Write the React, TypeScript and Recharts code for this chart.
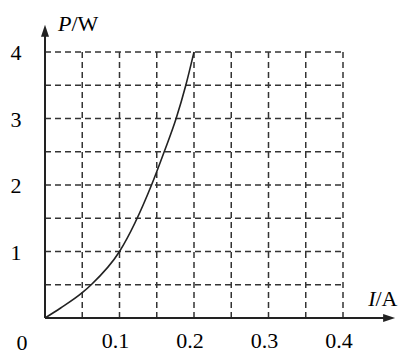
import { LineChart, Line, XAxis, YAxis, CartesianGrid, ReferenceLine } from 'recharts';

// I (A) vs P (W)
const currents = [0, 0.021, 0.05, 0.062, 0.1, 0.143, 0.16, 0.176, 0.189, 0.2];
const powers = [0, 0.15, 0.38, 0.5, 1.0, 2.0, 2.5, 3.0, 3.5, 4.0];

const xTicks = [0, 0.05, 0.1, 0.15, 0.2, 0.25, 0.3, 0.35, 0.4];
const yTicks = [0, 0.5, 1, 1.5, 2, 2.5, 3, 3.5, 4];
const xLabels = ['0.1', '0.2', '0.3', '0.4'];
const yLabels = ['1', '2', '3', '4'];

const data = currents.map((c, i) => ({ current: c, power: powers[i] }));

const FONT = '"Liberation Serif", "Times New Roman", serif';
const INK = '#222';

const XTick = (props: any) => {
  const { x, y, payload } = props;
  const hundredths = Math.round(payload.value * 100);
  const txt = (hundredths / 100).toFixed(1);
  if (hundredths % 10 !== 0 || !xLabels.includes(txt)) return <g />;
  return (
    <text x={x - 4} y={y + 22} textAnchor="middle" fontSize={22} fontFamily={FONT} fill="#000">
      {txt}
    </text>
  );
};

const YTick = (props: any) => {
  const { y, payload } = props;
  const txt = String(payload.value);
  if (!yLabels.includes(txt)) return <g />;
  return (
    <text x={16} y={y + 8} textAnchor="middle" fontSize={22} fontFamily={FONT} fill="#000">
      {txt}
    </text>
  );
};

const YArrow = (props: any) => {
  const { x1, y1, x2, y2 } = props;
  const top = Math.min(y1, y2);
  const bottom = Math.max(y1, y2);
  return (
    <g>
      <line x1={x1} y1={bottom} x2={x2} y2={top + 6} stroke={INK} strokeWidth={2} />
      <polygon points={`${x1},${top} ${x1 - 4},${top + 12} ${x1 + 4},${top + 12}`} fill={INK} />
      <text x={x1 + 13} y={top + 6} fontSize={22} fontFamily={FONT} fill="#000">
        <tspan fontStyle="italic">P</tspan>
        <tspan>/W</tspan>
      </text>
    </g>
  );
};

const XArrow = (props: any) => {
  const { x1, y1, x2 } = props;
  const left = Math.min(x1, x2);
  const right = Math.max(x1, x2);
  return (
    <g>
      <line x1={left} y1={y1} x2={right - 6} y2={y1} stroke={INK} strokeWidth={2} />
      <polygon points={`${right},${y1} ${right - 12},${y1 - 4} ${right - 12},${y1 + 4}`} fill={INK} />
      <text x={right - 27} y={y1 - 12} fontSize={22} fontFamily={FONT} fill="#000">
        <tspan fontStyle="italic">I</tspan>
        <tspan>/A</tspan>
      </text>
      <text x={22} y={y1 + 32} textAnchor="middle" fontSize={22} fontFamily={FONT} fill="#000">
        0
      </text>
    </g>
  );
};

export default function App() {
  return (
    <div style={{ position: 'absolute', left: 0, top: 0, background: '#fff' }}>
      <LineChart
        width={408}
        height={356}
        data={data}
        margin={{ top: 52, right: 65, left: 0, bottom: 0 }}
      >
        <CartesianGrid stroke="#333" strokeWidth={1.5} strokeDasharray="6 4" />
        <XAxis
          type="number"
          dataKey="current"
          domain={[0, 0.4]}
          ticks={xTicks}
          tick={<XTick />}
          axisLine={false}
          tickLine={false}
          height={38}
        />
        <YAxis
          type="number"
          domain={[0, 4]}
          ticks={yTicks}
          tick={<YTick />}
          axisLine={false}
          tickLine={false}
          width={45}
        />
        <ReferenceLine
          segment={[{ x: 0, y: 0 }, { x: 0, y: 4.41 }]}
          ifOverflow="visible"
          shape={<YArrow />}
        />
        <ReferenceLine
          segment={[{ x: 0, y: 0 }, { x: 0.47, y: 0 }]}
          ifOverflow="visible"
          shape={<XArrow />}
        />
        <Line
          type="monotone"
          dataKey="power"
          stroke={INK}
          strokeWidth={1.6}
          dot={false}
          isAnimationActive={false}
        />
      </LineChart>
    </div>
  );
}
